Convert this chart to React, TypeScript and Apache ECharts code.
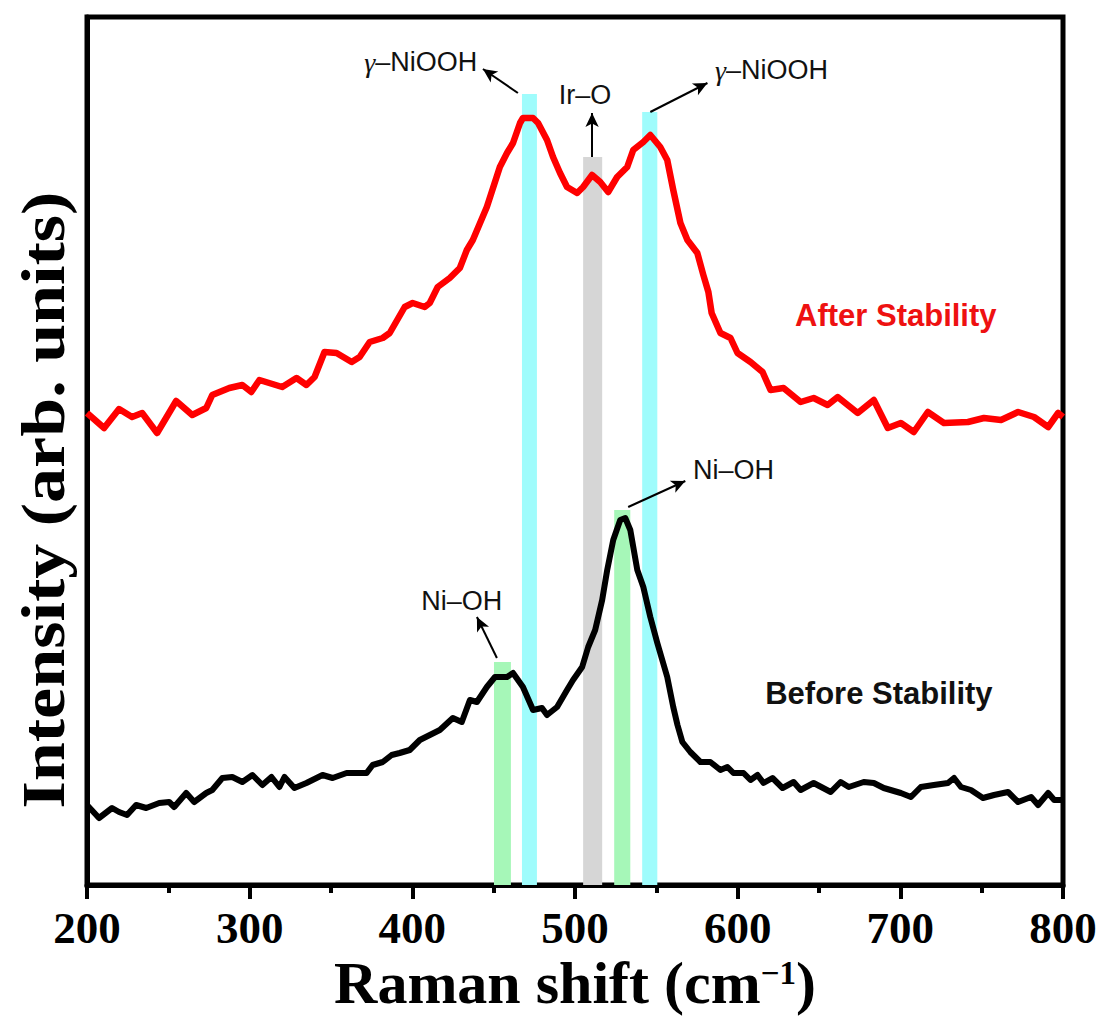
import React, { useEffect, useRef } from "react";
import * as echarts from "echarts";

// Raman shift (cm-1) vs intensity (arb. units)
const afterSpectrum: [number, number][] = [
  [200, 472], [210.5, 457], [219.7, 476], [227.7, 468], [233.9, 472], [243.1, 452], [254.8, 484],
  [264.7, 470], [273.3, 477], [277, 490], [287.5, 497], [295.5, 500], [301, 493], [306, 505],
  [320, 498], [328.8, 507], [334.9, 500], [339.9, 508], [346, 533], [353.4, 532], [362.7, 523],
  [367.6, 528], [373.8, 543], [381.8, 547], [386.1, 552], [395.3, 578], [400.2, 582], [407.6, 578],
  [410.7, 582], [415.6, 598], [423, 607], [429.2, 617], [433.5, 635], [437.2, 645], [445.8, 678],
  [453.8, 718], [458.2, 732], [461.9, 742], [466.2, 762], [468, 767], [474.2, 767], [477.3, 762],
  [482.8, 745], [486.5, 728], [490.8, 712], [495.1, 698], [501.3, 692], [505, 698], [510.5, 710],
  [515.5, 703], [520.4, 693], [525.9, 708], [532.1, 718], [535.8, 735], [542, 743], [546.3, 750],
  [552.4, 738], [556.7, 725], [560.4, 695], [564.8, 662], [569.1, 645], [575.2, 632], [578.9, 610],
  [582, 593], [584, 572], [589.4, 552], [595.6, 547], [599.9, 532], [607.9, 523], [615.3, 513],
  [620.2, 495], [628.2, 497], [638.7, 483], [646.7, 487], [655.3, 480], [661.5, 488], [673.8, 472],
  [683.7, 485], [692.3, 457], [700.3, 462], [708.3, 453], [716.9, 473], [726.8, 462], [741.6, 463],
  [751.4, 467], [761.9, 465], [772.4, 473], [782.2, 468], [790.9, 458], [797, 472], [800, 468],
];

const beforeSpectrum: [number, number][] = [
  [200, 80], [207.4, 67], [215.4, 77], [219.7, 73], [224.6, 70], [230.2, 80], [236.4, 77],
  [244.4, 82], [250.5, 83], [253.6, 78], [261, 92], [265.9, 83], [273.3, 92], [277, 95],
  [283.2, 107], [289.3, 108], [295.5, 103], [301.7, 110], [307.8, 100], [313.4, 108], [318.3, 98],
  [321.4, 108], [327.5, 97], [334.9, 102], [344.8, 110], [351, 107], [359.6, 112], [371.9, 112],
  [375.6, 120], [381.8, 123], [387.3, 130], [392.2, 132], [398.4, 135], [404.6, 145], [416.9, 155],
  [424.9, 167], [430.4, 163], [435.4, 185], [439.7, 183], [445.8, 198], [450.8, 208], [458.2, 208],
  [461.9, 212], [468, 198], [474.2, 175], [479.7, 177], [482.8, 170], [489, 178], [495.1, 195],
  [498.8, 205], [504.4, 218], [508.1, 238], [512.4, 255], [516.7, 285], [519.8, 315], [523.5, 345],
  [527.8, 365], [530.9, 367], [534, 355], [538.3, 315], [542, 298], [546.3, 268], [550.6, 242],
  [556.7, 208], [560.4, 178], [563, 160], [566, 143], [570.9, 133], [577.1, 123], [583.2, 123],
  [589.4, 115], [593.7, 118], [597.4, 112], [603.6, 112], [607.9, 105], [612.2, 110], [615.9, 102],
  [621.4, 107], [627.6, 97], [634.4, 103], [638.7, 95], [646.7, 102], [657.2, 93], [663.3, 103],
  [668.3, 98], [677.5, 103], [683.7, 102], [689.8, 97], [700.3, 92], [706.5, 88], [712.6, 98],
  [720.6, 100], [729.3, 102], [733, 107], [737.3, 98], [743.4, 95], [750.8, 87], [757.6, 90],
  [766.2, 93], [772.4, 83], [780.4, 88], [784.7, 80], [790.9, 92], [794.6, 85], [800, 85],
];

// shaded bands: from, to, top intensity, kind
const bandFrom = [450.2, 467.4, 505, 524.1, 541.3];
const bandTo = [460.6, 476.6, 516.7, 534, 550.6];
const bandTop = [223, 791, 728, 375, 773];
const bandKind = ["green", "cyan", "gray", "green", "cyan"];

// annotation labels: text, x, y
const annoText = ["{g|γ}–NiOOH", "Ir–O", "{g|γ}–NiOOH", "Ni–OH", "Ni–OH"];
const annoX = [405.2, 506.2, 620.8, 597.4, 430.4];
const annoY = [823, 790, 815, 415, 284];
// arrows: from (x1,y1) to (x2,y2)
const arrowX1 = [464.9, 510.5, 546.3, 532.7, 452];
const arrowY1 = [792, 728, 773, 378, 227];
const arrowX2 = [443.4, 510.5, 581.4, 567.8, 439.7];
const arrowY2 = [816, 772, 802, 404, 268];

const seriesNames = ["After Stability", "Before Stability"];
const seriesLabelX = [697.2, 686.8];
const seriesLabelY = [570, 192];

const xTicks = { min: 200, max: 800, interval: 100 };

const bandColors: Record<string, string> = {
  green: "#a6f7b8",
  cyan: "#9ffcfc",
  gray: "#d6d6d6",
};

export default function App() {
  const ref = useRef<HTMLDivElement>(null);
  useEffect(() => {
    document.body.style.margin = "0";
    if (!ref.current) return;
    const chart = echarts.init(ref.current, null, { renderer: "svg" });
    const sans = "'Liberation Sans', Arial, sans-serif";
    const serif = "'Liberation Serif', 'Times New Roman', serif";

    const option: any = {
      animation: false,
      backgroundColor: "#ffffff",
      grid: {
        left: 87,
        right: 39,
        top: 17,
        bottom: 132,
        show: true,
        borderColor: "#000",
        borderWidth: 5,
        backgroundColor: "transparent",
      },
      xAxis: {
        type: "value",
        min: xTicks.min,
        max: xTicks.max,
        interval: xTicks.interval,
        axisLine: { show: true, onZero: false, lineStyle: { color: "#000", width: 5 } },
        axisTick: { show: true, inside: false, length: 14, lineStyle: { color: "#000", width: 4 } },
        minorTick: { show: true, splitNumber: 2, length: 8, lineStyle: { color: "#000", width: 4 } },
        axisLabel: {
          color: "#000",
          fontFamily: serif,
          fontWeight: "bold",
          fontSize: 45,
          lineHeight: 44,
          margin: 21,
        },
        splitLine: { show: false },
      },
      yAxis: {
        type: "value",
        min: 0,
        max: 868,
        axisLine: { show: true, lineStyle: { color: "#000", width: 5 } },
        axisTick: { show: false },
        axisLabel: { show: false },
        splitLine: { show: false },
      },
      series: [
        {
          type: "line",
          data: [[200, 0]],
          showSymbol: false,
          lineStyle: { opacity: 0 },
          silent: true,
          z: 1,
          markArea: {
            silent: true,
            label: { show: false },
            data: bandFrom.map((f, i) => [
              { coord: [f, 0], itemStyle: { color: bandColors[bandKind[i]], opacity: 1 } },
              { coord: [bandTo[i], bandTop[i]] },
            ]),
          },
        },
        {
          type: "line",
          name: seriesNames[1],
          data: beforeSpectrum,
          showSymbol: false,
          smooth: false,
          lineStyle: { color: "#000", width: 6, join: "round" },
          z: 3,
        },
        {
          type: "line",
          name: seriesNames[0],
          data: afterSpectrum,
          showSymbol: false,
          smooth: false,
          lineStyle: { color: "#ff0000", width: 6.5, join: "round" },
          z: 3,
        },
        {
          type: "line",
          data: [[200, 0]],
          showSymbol: false,
          lineStyle: { opacity: 0 },
          silent: true,
          z: 5,
          markLine: {
            silent: true,
            symbolSize: [10, 14],
            label: { show: false },
            lineStyle: { color: "#000", width: 2, type: "solid" },
            data: arrowX1.map((x1, i) => [
              { coord: [x1, arrowY1[i]], symbol: "none" },
              { coord: [arrowX2[i], arrowY2[i]], symbol: "arrow" },
            ]),
          },
          markPoint: {
            silent: true,
            symbol: "rect",
            symbolSize: 1,
            itemStyle: { color: "transparent" },
            data: [
              ...annoText.map((t, i) => ({
                coord: [annoX[i], annoY[i]],
                label: {
                  show: true,
                  position: "inside",
                  formatter: t,
                  color: "#111",
                  fontFamily: sans,
                  fontSize: 27,
                  rich: {
                    g: { fontFamily: serif, fontStyle: "italic", fontSize: 28, color: "#111" },
                  },
                },
              })),
              ...seriesNames.map((n, i) => ({
                coord: [seriesLabelX[i], seriesLabelY[i]],
                label: {
                  show: true,
                  position: "inside",
                  formatter: n,
                  color: i === 0 ? "#ee1111" : "#111",
                  fontFamily: sans,
                  fontWeight: "bold",
                  fontSize: 31,
                },
              })),
            ],
          },
        },
      ],
      graphic: [
        {
          type: "text",
          x: 575,
          y: 983,
          style: {
            text: "{a|Raman shift (cm}{s|−1}{a|)}",
            align: "center",
            verticalAlign: "middle",
            rich: {
              a: { fontFamily: serif, fontWeight: "bold", fontSize: 60, fill: "#000", lineHeight: 54 },
              s: {
                fontFamily: serif,
                fontWeight: "bold",
                fontSize: 33,
                fill: "#000",
                verticalAlign: "top",
                lineHeight: 30,
              },
            },
          },
        },
        {
          type: "text",
          x: 43,
          y: 500,
          rotation: Math.PI / 2,
          scaleX: 1.13,
          style: {
            text: "Intensity (arb. units)",
            fontFamily: serif,
            fontWeight: "bold",
            fontSize: 62,
            fill: "#000",
            align: "center",
            verticalAlign: "middle",
          },
        },
      ],
    };
    chart.setOption(option);
    return () => chart.dispose();
  }, []);
  return <div ref={ref} style={{ width: 1102, height: 1017 }} />;
}
